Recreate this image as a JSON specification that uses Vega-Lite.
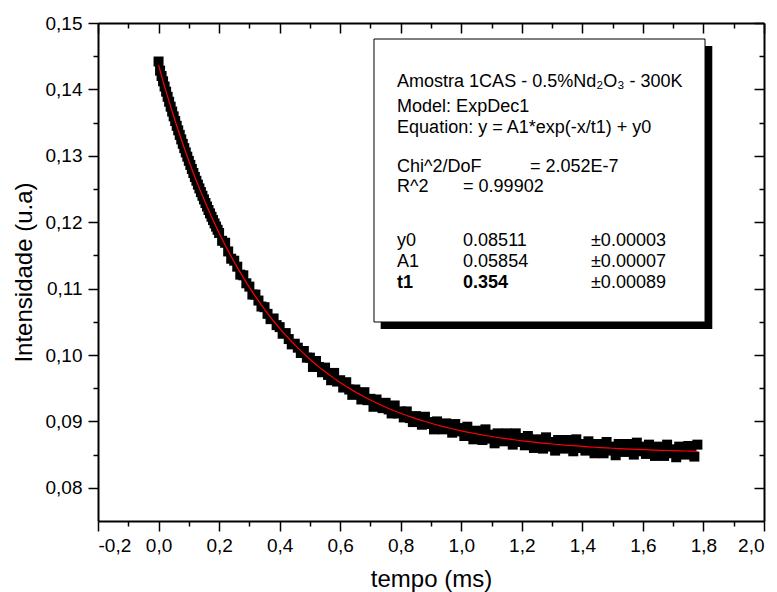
{
  "$schema": "https://vega.github.io/schema/vega-lite/v6.json",
  "width": 666,
  "height": 498,
  "autosize": "none",
  "padding": {"left": 98, "top": 23, "right": 13, "bottom": 71},
  "config": {
    "view": {"stroke": null},
    "font": "Liberation Sans",
    "axis": {
      "grid": false,
      "domainColor": "#000",
      "domainWidth": 2,
      "tickColor": "#000",
      "tickWidth": 1.5,
      "labelColor": "#000",
      "labelFont": "Liberation Sans",
      "labelFontSize": 19,
      "titleColor": "#000",
      "titleFont": "Liberation Sans",
      "titleFontWeight": "normal",
      "titleFontSize": 24
    }
  },
  "datasets": {
    "box": [{"bx1": 0.7117, "bx2": 1.8052, "by1": 0.10497, "by2": 0.14759, "sx1": 0.7338, "sx2": 1.8292, "sy1": 0.10392, "sy2": 0.14654}],
    "notes": [
      {"t": 0.788, "v": 0.14111, "label": "Amostra 1CAS - 0.5%Nd₂O₃ - 300K", "w": "n"},
      {"t": 0.788, "v": 0.13735, "label": "Model: ExpDec1", "w": "n"},
      {"t": 0.788, "v": 0.13419, "label": "Equation: y = A1*exp(-x/t1) + y0", "w": "n"},
      {"t": 0.788, "v": 0.12831, "label": "Chi^2/DoF", "w": "n"},
      {"t": 1.227, "v": 0.12831, "label": "= 2.052E-7", "w": "n"},
      {"t": 0.788, "v": 0.1253, "label": "R^2", "w": "n"},
      {"t": 1.006, "v": 0.1253, "label": "=  0.99902", "w": "n"},
      {"t": 0.788, "v": 0.11717, "label": "y0", "w": "n"},
      {"t": 1.006, "v": 0.11717, "label": "0.08511", "w": "n"},
      {"t": 1.4285, "v": 0.11717, "label": "±0.00003", "w": "n"},
      {"t": 0.788, "v": 0.11401, "label": "A1", "w": "n"},
      {"t": 1.006, "v": 0.11401, "label": "0.05854", "w": "n"},
      {"t": 1.4285, "v": 0.11401, "label": "±0.00007", "w": "n"},
      {"t": 0.788, "v": 0.11084, "label": "t1", "w": "b"},
      {"t": 1.006, "v": 0.11084, "label": "0.354", "w": "b"},
      {"t": 1.4285, "v": 0.11084, "label": "±0.00089", "w": "n"}
    ],
    "fit": [
      {"t":0.00,"f":0.14365},{"t":0.02,"f":0.14043},{"t":0.04,"f":0.13740},{"t":0.06,"f":0.13452},{"t":0.08,"f":0.13181},
      {"t":0.10,"f":0.12924},{"t":0.12,"f":0.12682},{"t":0.14,"f":0.12453},{"t":0.16,"f":0.12236},{"t":0.18,"f":0.12032},
      {"t":0.20,"f":0.11838},{"t":0.22,"f":0.11656},{"t":0.24,"f":0.11483},{"t":0.26,"f":0.11320},{"t":0.28,"f":0.11165},
      {"t":0.30,"f":0.11019},{"t":0.32,"f":0.10882},{"t":0.34,"f":0.10751},{"t":0.36,"f":0.10628},{"t":0.38,"f":0.10512},
      {"t":0.40,"f":0.10402},{"t":0.42,"f":0.10298},{"t":0.44,"f":0.10200},{"t":0.46,"f":0.10107},{"t":0.48,"f":0.10020},
      {"t":0.50,"f":0.09937},{"t":0.52,"f":0.09858},{"t":0.54,"f":0.09784},{"t":0.56,"f":0.09714},{"t":0.58,"f":0.09648},
      {"t":0.60,"f":0.09586},{"t":0.62,"f":0.09527},{"t":0.64,"f":0.09471},{"t":0.66,"f":0.09418},{"t":0.68,"f":0.09368},
      {"t":0.70,"f":0.09321},{"t":0.72,"f":0.09277},{"t":0.74,"f":0.09235},{"t":0.76,"f":0.09195},{"t":0.78,"f":0.09157},
      {"t":0.80,"f":0.09122},{"t":0.82,"f":0.09088},{"t":0.84,"f":0.09057},{"t":0.86,"f":0.09027},{"t":0.88,"f":0.08998},
      {"t":0.90,"f":0.08972},{"t":0.92,"f":0.08946},{"t":0.94,"f":0.08922},{"t":0.96,"f":0.08900},{"t":0.98,"f":0.08878},
      {"t":1.00,"f":0.08858},{"t":1.02,"f":0.08839},{"t":1.04,"f":0.08821},{"t":1.06,"f":0.08804},{"t":1.08,"f":0.08788},
      {"t":1.10,"f":0.08773},{"t":1.12,"f":0.08758},{"t":1.14,"f":0.08745},{"t":1.16,"f":0.08732},{"t":1.18,"f":0.08720},
      {"t":1.20,"f":0.08708},{"t":1.22,"f":0.08698},{"t":1.24,"f":0.08687},{"t":1.26,"f":0.08678},{"t":1.28,"f":0.08668},
      {"t":1.30,"f":0.08660},{"t":1.32,"f":0.08652},{"t":1.34,"f":0.08644},{"t":1.36,"f":0.08637},{"t":1.38,"f":0.08630},
      {"t":1.40,"f":0.08623},{"t":1.42,"f":0.08617},{"t":1.44,"f":0.08611},{"t":1.46,"f":0.08605},{"t":1.48,"f":0.08600},
      {"t":1.50,"f":0.08596},{"t":1.52,"f":0.08591},{"t":1.54,"f":0.08587},{"t":1.56,"f":0.08582},{"t":1.58,"f":0.08578},
      {"t":1.60,"f":0.08575},{"t":1.62,"f":0.08571},{"t":1.64,"f":0.08568},{"t":1.66,"f":0.08565},{"t":1.68,"f":0.08562},
      {"t":1.70,"f":0.08559},{"t":1.72,"f":0.08556},{"t":1.74,"f":0.08554},{"t":1.76,"f":0.08552},{"t":1.78,"f":0.08549}
    ],
    "meas": [
      {"t":0.000,"y":0.1442},{"t":0.005,"y":0.14283},{"t":0.010,"y":0.14202},{"t":0.015,"y":0.14122},{"t":0.020,"y":0.14043},
      {"t":0.025,"y":0.13966},{"t":0.030,"y":0.13889},{"t":0.035,"y":0.13814},{"t":0.040,"y":0.13740},{"t":0.045,"y":0.13666},
      {"t":0.050,"y":0.13594},{"t":0.055,"y":0.13523},{"t":0.060,"y":0.13452},{"t":0.065,"y":0.13383},{"t":0.070,"y":0.13315},
      {"t":0.075,"y":0.13247},{"t":0.080,"y":0.13181},{"t":0.085,"y":0.13115},{"t":0.090,"y":0.13051},{"t":0.095,"y":0.12987},
      {"t":0.100,"y":0.12924},{"t":0.105,"y":0.12863},{"t":0.110,"y":0.12802},{"t":0.115,"y":0.12741},{"t":0.120,"y":0.12682},
      {"t":0.125,"y":0.12624},{"t":0.130,"y":0.12566},{"t":0.135,"y":0.12509},{"t":0.140,"y":0.12453},{"t":0.145,"y":0.12398},
      {"t":0.150,"y":0.12343},{"t":0.155,"y":0.12289},{"t":0.160,"y":0.12236},{"t":0.165,"y":0.12184},{"t":0.170,"y":0.12133},
      {"t":0.175,"y":0.12082},{"t":0.180,"y":0.12032},{"t":0.185,"y":0.11982},{"t":0.190,"y":0.11934},{"t":0.195,"y":0.11886},
      {"t":0.200,"y":0.11838},
      {"t":0.21,"y":0.1172},{"t":0.22,"y":0.1169},{"t":0.23,"y":0.1156},{"t":0.24,"y":0.1145},
      {"t":0.25,"y":0.1142},{"t":0.26,"y":0.1133},{"t":0.27,"y":0.1121},{"t":0.28,"y":0.1120},{"t":0.29,"y":0.1108},
      {"t":0.30,"y":0.1103},{"t":0.31,"y":0.1091},{"t":0.32,"y":0.1091},{"t":0.33,"y":0.1082},{"t":0.34,"y":0.1073},
      {"t":0.35,"y":0.1072},{"t":0.36,"y":0.1062},{"t":0.37,"y":0.1054},{"t":0.38,"y":0.1055},{"t":0.39,"y":0.1045},
      {"t":0.40,"y":0.1042},{"t":0.41,"y":0.1032},{"t":0.42,"y":0.1033},{"t":0.43,"y":0.1024},{"t":0.44,"y":0.1016},
      {"t":0.45,"y":0.1017},{"t":0.46,"y":0.1011},{"t":0.47,"y":0.1003},{"t":0.48,"y":0.1006},{"t":0.49,"y":0.0996},
      {"t":0.50,"y":0.0996},{"t":0.51,"y":0.0982},{"t":0.52,"y":0.0991},{"t":0.53,"y":0.0982},{"t":0.54,"y":0.0974},
      {"t":0.55,"y":0.0981},{"t":0.56,"y":0.0970},{"t":0.57,"y":0.0962},{"t":0.58,"y":0.0973},{"t":0.59,"y":0.0960},
      {"t":0.60,"y":0.0962},{"t":0.61,"y":0.0951},{"t":0.62,"y":0.0959},{"t":0.63,"y":0.0948},{"t":0.64,"y":0.0940},
      {"t":0.65,"y":0.0948},{"t":0.66,"y":0.0943},{"t":0.67,"y":0.0933},{"t":0.68,"y":0.0944},{"t":0.69,"y":0.0932},
      {"t":0.70,"y":0.0934},{"t":0.71,"y":0.0922},{"t":0.72,"y":0.0933},{"t":0.73,"y":0.0926},{"t":0.74,"y":0.0920},
      {"t":0.75,"y":0.0928},{"t":0.76,"y":0.0918},{"t":0.77,"y":0.0912},{"t":0.78,"y":0.0924},{"t":0.79,"y":0.0912},
      {"t":0.80,"y":0.0915},{"t":0.81,"y":0.0906},{"t":0.82,"y":0.0915},{"t":0.83,"y":0.0905},{"t":0.84,"y":0.0899},
      {"t":0.85,"y":0.0908},{"t":0.86,"y":0.0904},{"t":0.87,"y":0.0895},{"t":0.88,"y":0.0907},{"t":0.89,"y":0.0896},
      {"t":0.90,"y":0.0899},{"t":0.91,"y":0.0888},{"t":0.92,"y":0.0900},{"t":0.93,"y":0.0893},{"t":0.94,"y":0.0888},
      {"t":0.95,"y":0.0897},{"t":0.96,"y":0.0889},{"t":0.97,"y":0.0883},{"t":0.98,"y":0.0896},{"t":0.99,"y":0.0885},
      {"t":1.00,"y":0.0890},{"t":1.01,"y":0.0878},{"t":1.02,"y":0.0892},{"t":1.03,"y":0.0880},{"t":1.04,"y":0.0873},
      {"t":1.05,"y":0.0886},{"t":1.06,"y":0.0882},{"t":1.07,"y":0.0872},{"t":1.08,"y":0.0888},{"t":1.09,"y":0.0874},
      {"t":1.10,"y":0.0880},{"t":1.11,"y":0.0867},{"t":1.12,"y":0.0882},{"t":1.13,"y":0.0875},{"t":1.14,"y":0.0870},
      {"t":1.15,"y":0.0882},{"t":1.16,"y":0.0872},{"t":1.17,"y":0.0865},{"t":1.18,"y":0.0882},{"t":1.19,"y":0.0869},
      {"t":1.20,"y":0.0875},{"t":1.21,"y":0.0864},{"t":1.22,"y":0.0878},{"t":1.23,"y":0.0867},{"t":1.24,"y":0.0860},
      {"t":1.25,"y":0.0873},{"t":1.26,"y":0.0869},{"t":1.27,"y":0.0859},{"t":1.28,"y":0.0876},{"t":1.29,"y":0.0862},
      {"t":1.30,"y":0.0869},{"t":1.31,"y":0.0856},{"t":1.32,"y":0.0872},{"t":1.33,"y":0.0865},{"t":1.34,"y":0.0859},
      {"t":1.35,"y":0.0872},{"t":1.36,"y":0.0862},{"t":1.37,"y":0.0855},{"t":1.38,"y":0.0873},{"t":1.39,"y":0.0860},
      {"t":1.40,"y":0.0866},{"t":1.41,"y":0.0856},{"t":1.42,"y":0.0870},{"t":1.43,"y":0.0859},{"t":1.44,"y":0.0852},
      {"t":1.45,"y":0.0866},{"t":1.46,"y":0.0862},{"t":1.47,"y":0.0852},{"t":1.48,"y":0.0869},{"t":1.49,"y":0.0856},
      {"t":1.50,"y":0.0862},{"t":1.51,"y":0.0849},{"t":1.52,"y":0.0866},{"t":1.53,"y":0.0859},{"t":1.54,"y":0.0854},
      {"t":1.55,"y":0.0866},{"t":1.56,"y":0.0857},{"t":1.57,"y":0.0850},{"t":1.58,"y":0.0868},{"t":1.59,"y":0.0855},
      {"t":1.60,"y":0.0862},{"t":1.61,"y":0.0851},{"t":1.62,"y":0.0865},{"t":1.63,"y":0.0854},{"t":1.64,"y":0.0848},
      {"t":1.65,"y":0.0862},{"t":1.66,"y":0.0858},{"t":1.67,"y":0.0848},{"t":1.68,"y":0.0865},{"t":1.69,"y":0.0852},
      {"t":1.70,"y":0.0858},{"t":1.71,"y":0.0846},{"t":1.72,"y":0.0862},{"t":1.73,"y":0.0855},{"t":1.74,"y":0.0850},
      {"t":1.75,"y":0.0863},{"t":1.76,"y":0.0854},{"t":1.77,"y":0.0847},{"t":1.78,"y":0.0865}
    ]
  },
  "resolve": {"axis": {"x": "independent", "y": "independent"}},
  "layer": [
    {
      "data": {"name": "box"},
      "mark": {"type": "rect", "color": "#000"},
      "encoding": {
        "x": {"field": "sx1", "type": "quantitative", "scale": {"domain": [-0.2, 2.0], "nice": false, "zero": false},
          "axis": {"orient": "bottom", "title": "tempo (ms)", "values": [-0.2, 0, 0.2, 0.4, 0.6, 0.8, 1.0, 1.2, 1.4, 1.6, 1.8, 2.0],
            "tickSize": 10, "labelPadding": 5, "titlePadding": 12,
            "labelExpr": "replace(replace(format(datum.value, '.1f'), '.', ','), '\u2212', '-')"}},
        "x2": {"field": "sx2"},
        "y": {"field": "sy1", "type": "quantitative", "scale": {"domain": [0.075, 0.15], "nice": false, "zero": false},
          "axis": {"orient": "left", "title": "Intensidade (u.a)", "values": [0.08, 0.09, 0.10, 0.11, 0.12, 0.13, 0.14, 0.15],
            "tickSize": 10, "labelPadding": 6, "titlePadding": 9,
            "labelExpr": "replace(format(datum.value, '.2f'), '.', ',')"}},
        "y2": {"field": "sy2"}
      }
    },
    {
      "data": {"name": "box"},
      "mark": {"type": "rect", "fill": "#fff", "stroke": "#000", "strokeWidth": 1},
      "encoding": {
        "x": {"field": "bx1", "type": "quantitative",
          "axis": {"orient": "bottom", "title": null, "labels": false, "domain": false, "tickSize": 5,
            "values": [-0.1, 0.1, 0.3, 0.5, 0.7, 0.9, 1.1, 1.3, 1.5, 1.7, 1.9]}},
        "x2": {"field": "bx2"},
        "y": {"field": "by1", "type": "quantitative",
          "axis": {"orient": "left", "title": null, "labels": false, "domain": false, "tickSize": 5,
            "values": [0.085, 0.095, 0.105, 0.115, 0.125, 0.135, 0.145]}},
        "y2": {"field": "by2"}
      }
    },
    {
      "data": {"name": "meas"},
      "mark": {"type": "square", "size": 100, "color": "#000", "opacity": 1, "filled": true},
      "encoding": {
        "x": {"field": "t", "type": "quantitative",
          "axis": {"orient": "top", "title": null, "labels": false, "tickSize": -10,
            "values": [-0.2, 0, 0.2, 0.4, 0.6, 0.8, 1.0, 1.2, 1.4, 1.6, 1.8, 2.0]}},
        "y": {"field": "y", "type": "quantitative",
          "axis": {"orient": "right", "title": null, "labels": false, "tickSize": -10,
            "values": [0.08, 0.09, 0.10, 0.11, 0.12, 0.13, 0.14, 0.15]}}
      }
    },
    {
      "data": {"name": "fit"},
      "mark": {"type": "line", "color": "#ff0000", "strokeWidth": 1.2},
      "encoding": {
        "x": {"field": "t", "type": "quantitative",
          "axis": {"orient": "top", "title": null, "labels": false, "domain": false, "tickSize": -5,
            "values": [-0.1, 0.1, 0.3, 0.5, 0.7, 0.9, 1.1, 1.3, 1.5, 1.7, 1.9]}},
        "y": {"field": "f", "type": "quantitative",
          "axis": {"orient": "right", "title": null, "labels": false, "domain": false, "tickSize": -5,
            "values": [0.085, 0.095, 0.105, 0.115, 0.125, 0.135, 0.145]}}
      }
    },
    {
      "data": {"name": "notes"},
      "transform": [{"filter": "datum.w == 'n'"}],
      "mark": {"type": "text", "align": "left", "baseline": "middle", "fontSize": 18, "font": "Liberation Sans", "color": "#000"},
      "encoding": {
        "x": {"field": "t", "type": "quantitative", "axis": null},
        "y": {"field": "v", "type": "quantitative", "axis": null},
        "text": {"field": "label"}
      }
    },
    {
      "data": {"name": "notes"},
      "transform": [{"filter": "datum.w == 'b'"}],
      "mark": {"type": "text", "align": "left", "baseline": "middle", "fontSize": 18, "font": "Liberation Sans", "fontWeight": "bold", "color": "#000"},
      "encoding": {
        "x": {"field": "t", "type": "quantitative", "axis": null},
        "y": {"field": "v", "type": "quantitative", "axis": null},
        "text": {"field": "label"}
      }
    }
  ]
}
